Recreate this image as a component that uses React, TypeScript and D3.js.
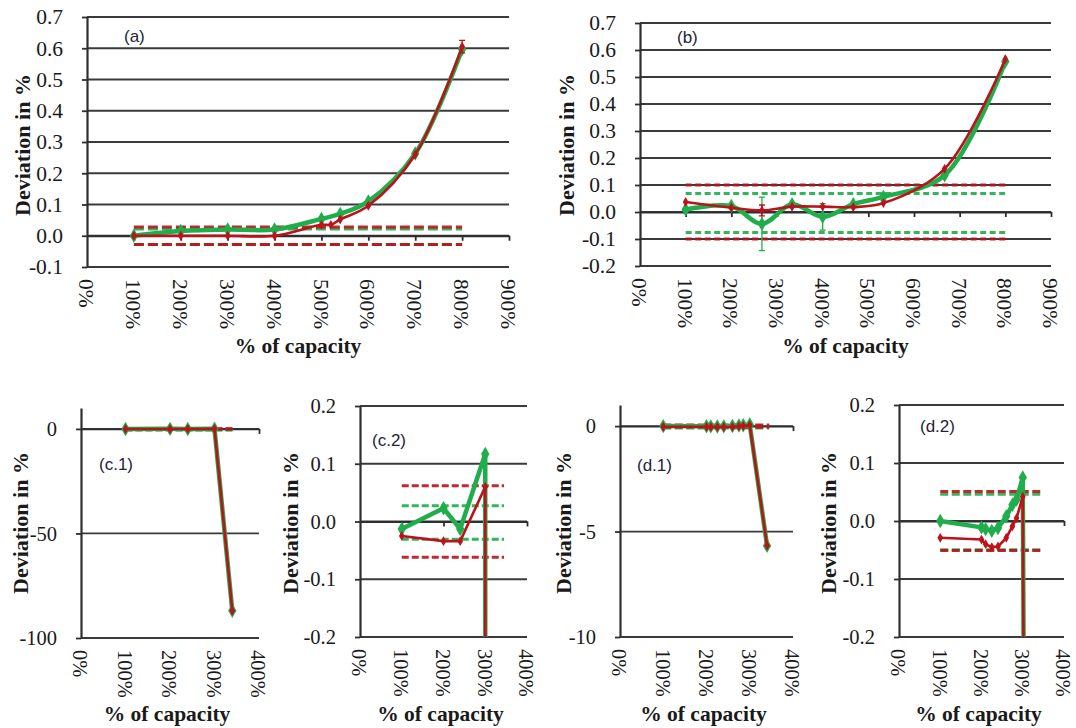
import React, { useEffect, useRef } from 'react';
import * as d3 from 'd3';

// panel (a)
const aGreenX = [100, 200, 300, 400, 500, 540, 600, 700, 800];
const aGreenY = [0, 0.015, 0.02, 0.02, 0.054, 0.07, 0.11, 0.263, 0.597];
const aRedX = [100, 200, 300, 400, 500, 520, 540, 600, 700, 800];
const aRedY = [0, 0, 0, 0, 0.035, 0.035, 0.052, 0.096, 0.26, 0.605];
const aRedErr = [0, 0, 0, 0, 0, 0, 0, 0, 0, 0.02];
const aTolRed = 0.028;
const aTolGreen = 0.025;

// panel (b)
const bX = [100, 200, 267, 333, 400, 467, 533, 667, 800];
const bGreenY = [0.009, 0.022, -0.044, 0.029, -0.018, 0.029, 0.056, 0.136, 0.557];
const bGreenErr = [0, 0, 0.099, 0, 0.049, 0, 0.014, 0, 0];
const bRedY = [0.037, 0.016, 0.006, 0.02, 0.02, 0.018, 0.033, 0.16, 0.566];
const bRedErr = [0, 0, 0.02, 0, 0, 0, 0, 0, 0];
const bTolRed = 0.1;
const bTolGreen = 0.072;

// panels (c.1) / (c.2)
const cX = [100, 200, 240, 300, 340];
const cGreenY = [-0.013, 0.023, -0.013, 0.117, -87];
const cRedY = [-0.025, -0.034, -0.034, 0.06, -87];
const cTolRed = 0.062;
const cTolGreen = 0.029;

// panels (d.1) / (d.2)
const dX = [100, 200, 210, 225, 240, 260, 275, 285, 300, 340];
const dGreenY = [0, -0.011, -0.014, -0.017, -0.012, 0.008, 0.028, 0.037, 0.075, -5.67];
const dRedY = [-0.029, -0.032, -0.04, -0.045, -0.044, -0.029, -0.009, 0.005, 0.042, -5.67];
const dTolRed = 0.051;
const dTolGreen = 0.048;

const topXTicks = [0, 100, 200, 300, 400, 500, 600, 700, 800, 900];
const botXTicks = [0, 100, 200, 300, 400];
const aYTicks = [-0.1, 0, 0.1, 0.2, 0.3, 0.4, 0.5, 0.6, 0.7];
const bYTicks = [-0.2, -0.1, 0, 0.1, 0.2, 0.3, 0.4, 0.5, 0.6, 0.7];
const c1YTicks = [-100, -50, 0];
const d1YTicks = [-10, -5, 0];
const zoomYTicks = [-0.2, -0.1, 0, 0.1, 0.2];

const GREEN = '#1fae4b';
const RED = '#bd111b';
const GRID = '#3a3a3a';
const SERIF = 'Liberation Serif, DejaVu Serif, serif';
const SANS = 'Liberation Sans, Arial, sans-serif';

interface Series {
  x: number[];
  y: number[];
  err?: number[];
}

interface PanelCfg {
  id: string;
  left: number;
  right: number;
  top: number;
  bottom: number;
  xMax: number;
  xTicks: number[];
  yDomain: [number, number];
  yTicks: number[];
  fmt: (v: number) => string;
  font: number;
  label: string;
  labelX: number;
  labelY: number;
  yTitleX: number;
  xTitleY: number;
  green: Series;
  red: Series;
  tolRed: number;
  tolGreen: number;
  tolEnd: number;
  dash: string;
  smooth: boolean;
}

const f1 = (v: number) => v.toFixed(1);
const f0 = (v: number) => String(v);

const panels: PanelCfg[] = [
  {
    id: 'a', left: 87, right: 509, top: 17, bottom: 267, xMax: 900, xTicks: topXTicks,
    yDomain: [-0.1, 0.7], yTicks: aYTicks, fmt: f1, font: 21.5,
    label: '(a)', labelX: 124, labelY: 42, yTitleX: 22, xTitleY: 353,
    green: { x: aGreenX, y: aGreenY }, red: { x: aRedX, y: aRedY, err: aRedErr },
    tolRed: aTolRed, tolGreen: aTolGreen, tolEnd: 800, dash: '10,4', smooth: true,
  },
  {
    id: 'b', left: 640, right: 1051, top: 23, bottom: 266, xMax: 900, xTicks: topXTicks,
    yDomain: [-0.2, 0.7], yTicks: bYTicks, fmt: f1, font: 21.5,
    label: '(b)', labelX: 677, labelY: 43, yTitleX: 566, xTitleY: 353,
    green: { x: bX, y: bGreenY, err: bGreenErr }, red: { x: bX, y: bRedY, err: bRedErr },
    tolRed: bTolRed, tolGreen: bTolGreen, tolEnd: 800, dash: '6,3.5', smooth: true,
  },
  {
    id: 'c1', left: 81, right: 259, top: 408, bottom: 638, xMax: 400, xTicks: botXTicks,
    yDomain: [-100, 10], yTicks: c1YTicks, fmt: f0, font: 20.5,
    label: '(c.1)', labelX: 99, labelY: 470, yTitleX: 20, xTitleY: 721,
    green: { x: cX, y: cGreenY }, red: { x: cX, y: cRedY },
    tolRed: cTolRed, tolGreen: cTolGreen, tolEnd: 345, dash: '7,3', smooth: false,
  },
  {
    id: 'c2', left: 360, right: 527, top: 406, bottom: 637, xMax: 400, xTicks: botXTicks,
    yDomain: [-0.2, 0.2], yTicks: zoomYTicks, fmt: f1, font: 20.5,
    label: '(c.2)', labelX: 372, labelY: 446, yTitleX: 290, xTitleY: 721,
    green: { x: cX, y: cGreenY }, red: { x: cX, y: cRedY },
    tolRed: cTolRed, tolGreen: cTolGreen, tolEnd: 345, dash: '7,3', smooth: false,
  },
  {
    id: 'd1', left: 620, right: 793, top: 405, bottom: 637, xMax: 400, xTicks: botXTicks,
    yDomain: [-10, 1], yTicks: d1YTicks, fmt: f0, font: 20.5,
    label: '(d.1)', labelX: 637, labelY: 471, yTitleX: 563, xTitleY: 721,
    green: { x: dX, y: dGreenY }, red: { x: dX, y: dRedY },
    tolRed: dTolRed, tolGreen: dTolGreen, tolEnd: 345, dash: '8,3.5', smooth: false,
  },
  {
    id: 'd2', left: 899, right: 1064, top: 405, bottom: 637, xMax: 400, xTicks: botXTicks,
    yDomain: [-0.2, 0.2], yTicks: zoomYTicks, fmt: f1, font: 20.5,
    label: '(d.2)', labelX: 920, labelY: 432, yTitleX: 828, xTitleY: 721,
    green: { x: dX, y: dGreenY }, red: { x: dX, y: dRedY },
    tolRed: dTolRed, tolGreen: dTolGreen, tolEnd: 345, dash: '8,3.5', smooth: false,
  },
];

const diamond = d3.symbol().type(d3.symbolDiamond);

function drawPanel(svg: d3.Selection<SVGSVGElement, unknown, null, undefined>, p: PanelCfg) {
  const x = d3.scaleLinear().domain([0, p.xMax]).range([p.left, p.right]);
  const y = d3.scaleLinear().domain(p.yDomain).range([p.bottom, p.top]);
  const g = svg.append('g');

  svg.append('defs').append('clipPath').attr('id', `clip-${p.id}`)
    .append('rect')
    .attr('x', p.left).attr('y', p.top)
    .attr('width', p.right - p.left).attr('height', p.bottom - p.top);

  // horizontal gridlines
  g.selectAll('.grid')
    .data(p.yTicks)
    .enter()
    .append('line')
    .attr('x1', p.left).attr('x2', p.right)
    .attr('y1', d => y(d)).attr('y2', d => y(d))
    .attr('stroke', GRID)
    .attr('stroke-width', 1.8);

  // y axis
  const yAxis = d3.axisLeft(y).tickValues(p.yTicks).tickSize(5).tickSizeOuter(0).tickPadding(19)
    .tickFormat(d => p.fmt(d as number));
  const ya = g.append('g').attr('transform', `translate(${p.left},0)`).call(yAxis)
    .attr('font-family', SERIF).attr('font-size', p.font);
  ya.select('.domain').attr('stroke', '#2e2e2e').attr('stroke-width', 2.2);
  ya.selectAll('line').attr('stroke', '#2e2e2e').attr('stroke-width', 1.8);
  ya.selectAll('text').attr('fill', '#1a1a1a');

  // x axis crossing at 0
  const xAxis = d3.axisBottom(x).tickValues(p.xTicks.filter(t => t > 0)).tickSize(5).tickSizeOuter(0).tickFormat(() => '');
  const xa = g.append('g').attr('transform', `translate(0,${y(0)})`).call(xAxis);
  xa.select('.domain').attr('stroke', '#2e2e2e').attr('stroke-width', 1.8);
  xa.selectAll('line').attr('stroke', '#2e2e2e').attr('stroke-width', 1.8);

  // x tick labels at the bottom, rotated
  g.selectAll('.xlab')
    .data(p.xTicks)
    .enter()
    .append('text')
    .attr('transform', d => `translate(${x(d) - 3},${p.bottom + 12}) rotate(90)`)
    .attr('text-anchor', 'start')
    .attr('dominant-baseline', 'middle')
    .attr('font-family', SERIF)
    .attr('font-size', p.font)
    .attr('fill', '#1a1a1a')
    .text(d => `${d}%`);

  // titles
  g.append('text')
    .attr('x', (p.left + p.right) / 2 - (p.xMax === 900 ? 0 : 3))
    .attr('y', p.xTitleY)
    .attr('text-anchor', 'middle')
    .attr('font-family', SERIF)
    .attr('font-size', 21.5)
    .attr('font-weight', 'bold')
    .attr('fill', '#1a1a1a')
    .text('% of capacity');

  const yMid = p.xMax === 900 ? 145 : 523;
  g.append('text')
    .attr('transform', `translate(${p.yTitleX},${yMid}) rotate(-90)`)
    .attr('text-anchor', 'middle')
    .attr('dy', '0.35em')
    .attr('font-family', SERIF)
    .attr('font-size', 22)
    .attr('font-weight', 'bold')
    .attr('fill', '#1a1a1a')
    .text('Deviation in %');

  g.append('text')
    .attr('x', p.labelX)
    .attr('y', p.labelY)
    .attr('font-family', SANS)
    .attr('font-size', 17)
    .attr('fill', '#22243a')
    .text(p.label);

  const plot = g.append('g').attr('clip-path', `url(#clip-${p.id})`);

  // tolerance bands (dashed)
  const tol = [
    { v: p.tolGreen, c: GREEN, off: 1 },
    { v: -p.tolGreen, c: GREEN, off: 1 },
    { v: p.tolRed, c: RED, off: 0 },
    { v: -p.tolRed, c: RED, off: 0 },
  ];
  plot.selectAll('.tol')
    .data(tol)
    .enter()
    .append('line')
    .attr('x1', x(100)).attr('x2', x(p.tolEnd))
    .attr('y1', d => y(d.v) + d.off).attr('y2', d => y(d.v) + d.off)
    .attr('stroke', d => d.c)
    .attr('stroke-width', 3)
    .attr('stroke-dasharray', p.dash)
    .style('opacity', 0.9);

  const curve = p.smooth ? d3.curveCatmullRom.alpha(0.5) : d3.curveLinear;
  const drawSeries = (s: Series, color: string, width: number, mSize: number) => {
    const pts = s.x.map((v, i) => [v, s.y[i], s.err ? s.err[i] : 0] as [number, number, number]);
    const line = d3.line<[number, number, number]>()
      .x(d => x(d[0]))
      .y(d => y(d[1]))
      .curve(curve);
    plot.append('path')
      .datum(pts)
      .attr('d', line)
      .attr('fill', 'none')
      .attr('stroke', color)
      .attr('stroke-width', width)
      .attr('stroke-linejoin', 'round');

    const errs = pts.filter(d => d[2] > 0);
    plot.selectAll(null)
      .data(errs)
      .enter()
      .append('path')
      .attr('d', d => {
        const cx = x(d[0]);
        const y1 = y(d[1] + d[2]);
        const y2 = y(d[1] - d[2]);
        return `M${cx},${y1}V${y2}M${cx - 3},${y1}H${cx + 3}M${cx - 3},${y2}H${cx + 3}`;
      })
      .attr('stroke', color)
      .attr('stroke-width', 1.3)
      .attr('fill', 'none');

    plot.selectAll(null)
      .data(pts)
      .enter()
      .append('path')
      .attr('d', diamond.size(mSize)())
      .attr('transform', d => `translate(${x(d[0])},${y(d[1])})`)
      .attr('fill', color);
  };

  drawSeries(p.green, GREEN, 4.5, 60);
  drawSeries(p.red, RED, 2.6, 28);
}

export default function App() {
  const svgRef = useRef<SVGSVGElement>(null);

  useEffect(() => {
    if (!svgRef.current) return;
    const svg = d3.select(svgRef.current);
    svg.selectAll('*').remove();
    panels.forEach(p => drawPanel(svg, p));
  }, []);

  return (
    <svg
      ref={svgRef}
      width={1076}
      height={728}
      style={{ position: 'absolute', left: 0, top: 0, background: '#fff' }}
    />
  );
}
